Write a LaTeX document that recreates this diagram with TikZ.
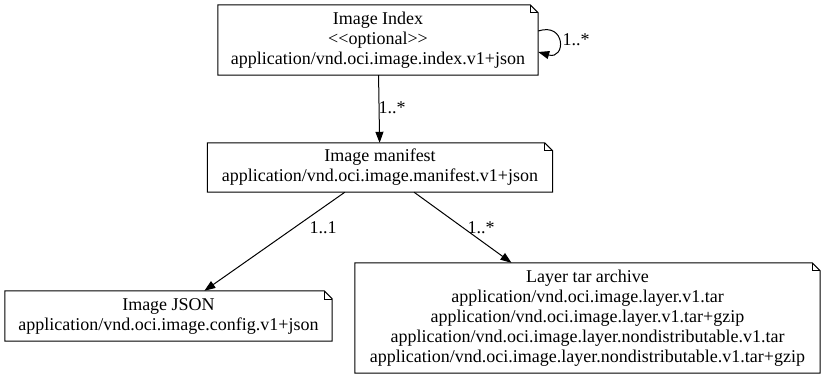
\documentclass[tikz,border=0pt]{standalone}
\usepackage{fontspec}
\setmainfont{Liberation Serif}
\usetikzlibrary{arrows.meta, positioning}

\begin{document}
\begin{tikzpicture}[x=1pt, y=-1pt,
    box/.style={align=center, inner sep=0pt, font=\fontsize{18}{20}\selectfont},
    lbl/.style={font=\fontsize{18}{20}\selectfont},
    arr/.style={-{Triangle[length=11pt, width=8pt]}, line width=1pt}]
  \useasboundingbox (0,0) rectangle (824,379);
  % each note: box text, folded corner drawn below
  \node[box, minimum width=320pt, minimum height=70pt] (idx) at (378,40)
    {Image Index\\<{}<optional>{}>\\application/vnd.oci.image.index.v1+json};
  \node[box, minimum width=345pt, minimum height=49pt] (man) at (380,167.5)
    {Image manifest\\application/vnd.oci.image.manifest.v1+json};
  \node[box, minimum width=327pt, minimum height=50pt] (json) at (168.5,316)
    {Image JSON\\application/vnd.oci.image.config.v1+json};
  \node[box, minimum width=465pt, minimum height=110pt] (layer) at (587.5,318)
    {Layer tar archive\\application/vnd.oci.image.layer.v1.tar\\application/vnd.oci.image.layer.v1.tar+gzip\\application/vnd.oci.image.layer.nondistributable.v1.tar\\application/vnd.oci.image.layer.nondistributable.v1.tar+gzip};
  \foreach \n in {idx, man, json, layer} {
    \draw[line width=1pt] (\n.north west) -- ([xshift=-8pt]\n.north east)
      -- ([yshift=-8pt]\n.north east) -- (\n.south east) -- (\n.south west) -- cycle;
    \draw[line width=0.6pt] ([xshift=-8pt]\n.north east) -- ([xshift=-8pt, yshift=-8pt]\n.north east)
      -- ([yshift=-8pt]\n.north east);
  }
  % edges
  \draw[arr] (idx) -- (man);
  \draw[arr] (man) -- (json);
  \draw[arr] (man) -- (layer);
  \draw[arr] ([yshift=9pt]idx.east) .. controls (566,22) and (566,60) .. ([yshift=-12pt]idx.east);
  \node[lbl] (l1) at (392,108) {1..*};
  \node[lbl] (l2) at (323,228) {1..1};
  \node[lbl] (l3) at (481,228) {1..*};
  \node[lbl] (l4) at (576,40) {1..*};
\end{tikzpicture}
\end{document}
